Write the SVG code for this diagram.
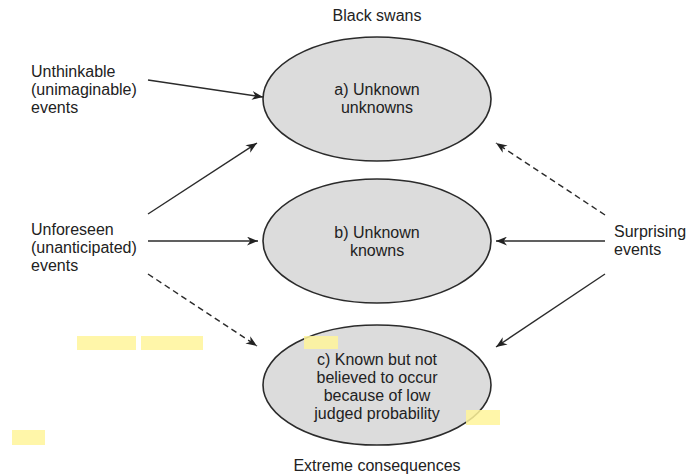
<svg xmlns="http://www.w3.org/2000/svg" width="689" height="474" viewBox="0 0 689 474">
  <style>
    .bg { fill: #ffffff; }
    .oval { fill: #dcdcdc; stroke: #2b2b2b; stroke-width: 1.6; }
    .lbl { font-family: "Liberation Sans", Arial, sans-serif; font-size: 16px; fill: #222222; }
    .mid { text-anchor: middle; }
    .edge { fill: none; stroke: #2b2b2b; stroke-width: 1.4; }
    .dash { stroke-dasharray: 6 4; }
    .mark { fill: #fff59a; opacity: 0.85; }
  </style>
  <defs>
    <marker id="head" viewBox="0 0 10 8" refX="10" refY="4" markerWidth="11" markerHeight="9" markerUnits="userSpaceOnUse" orient="auto">
      <path d="M0,0 L10,4 L0,8 L3,4 z" fill="#222222"/>
    </marker>
  </defs>

  <rect class="bg" x="0" y="0" width="689" height="474"/>

  <!-- headings -->
  <text class="lbl mid" x="377" y="21">Black swans</text>
  <text class="lbl mid" x="377" y="471">Extreme consequences</text>

  <!-- source labels -->
  <g id="unthinkable">
    <text class="lbl" x="31" y="77">Unthinkable</text>
    <text class="lbl" x="31" y="95">(unimaginable)</text>
    <text class="lbl" x="31" y="113">events</text>
  </g>
  <g id="unforeseen">
    <text class="lbl" x="31" y="235">Unforeseen</text>
    <text class="lbl" x="31" y="253">(unanticipated)</text>
    <text class="lbl" x="31" y="271">events</text>
  </g>
  <g id="surprising">
    <text class="lbl" x="614" y="237">Surprising</text>
    <text class="lbl" x="614" y="255">events</text>
  </g>

  <!-- categories -->
  <g id="unknown-unknowns">
    <ellipse class="oval" cx="377" cy="99" rx="114" ry="62"/>
    <text class="lbl mid" x="377" y="95">a) Unknown</text>
    <text class="lbl mid" x="377" y="113">unknowns</text>
  </g>
  <g id="unknown-knowns">
    <ellipse class="oval" cx="377" cy="241" rx="114" ry="62"/>
    <text class="lbl mid" x="377" y="238">b) Unknown</text>
    <text class="lbl mid" x="377" y="256">knowns</text>
  </g>
  <g id="known-low-probability">
    <ellipse class="oval" cx="377" cy="385" rx="114" ry="60"/>
    <text class="lbl mid" x="377" y="365">c) Known but not</text>
    <text class="lbl mid" x="377" y="383">believed to occur</text>
    <text class="lbl mid" x="377" y="401">because of low</text>
    <text class="lbl mid" x="377" y="419">judged probability</text>
  </g>

  <!-- connectors -->
  <g id="connectors">
    <line class="edge" x1="148" y1="80" x2="263" y2="97" marker-end="url(#head)"/>
    <line class="edge" x1="148" y1="214" x2="257" y2="143" marker-end="url(#head)"/>
    <line class="edge" x1="148" y1="241" x2="258" y2="241" marker-end="url(#head)"/>
    <line class="edge dash" x1="148" y1="274" x2="257" y2="346" marker-end="url(#head)"/>
    <line class="edge dash" x1="605" y1="215" x2="496" y2="143" marker-end="url(#head)"/>
    <line class="edge" x1="605" y1="241" x2="496" y2="241" marker-end="url(#head)"/>
    <line class="edge" x1="605" y1="274" x2="496" y2="347" marker-end="url(#head)"/>
  </g>

  <!-- highlighter marks -->
  <rect class="mark" x="77" y="336" width="59" height="14"/>
  <rect class="mark" x="141" y="336" width="62" height="14"/>
  <rect class="mark" x="304" y="336" width="34" height="13"/>
  <rect class="mark" x="466" y="410" width="34" height="15"/>
  <rect class="mark" x="12" y="430" width="33" height="15"/>
</svg>
